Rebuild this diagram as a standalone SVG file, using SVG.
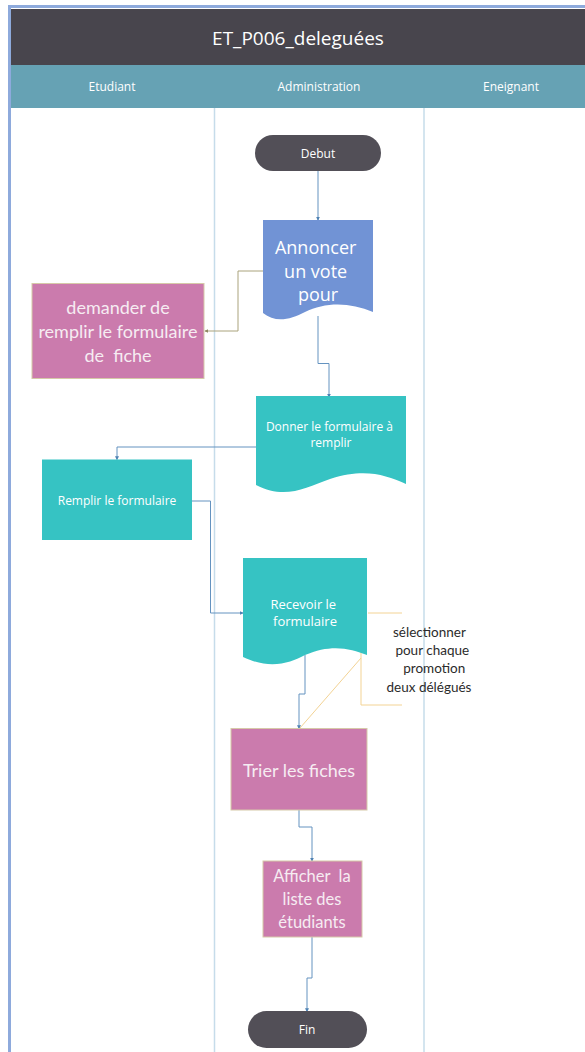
<svg xmlns="http://www.w3.org/2000/svg" width="585" height="1052" viewBox="0 0 585 1052">
  <style>
    .seg { font-family: "Open Sans", "Liberation Sans", sans-serif; fill: #ffffff; text-anchor: middle; }
    .cal { font-family: Lato, "Noto Sans", sans-serif; fill: #f6ecf2; text-anchor: middle; white-space: pre; }
    .note { font-family: Lato, "Noto Sans", sans-serif; fill: #2b2b2b; text-anchor: middle; font-size: 13.5px; }
    .lane { stroke: #c6dcea; stroke-width: 1.5; }
    .flow { fill: none; stroke: #6493c0; stroke-width: 1; }
    .link { fill: none; stroke: #aaa37d; stroke-width: 1; }
    .ann { fill: none; stroke: #f3d394; stroke-width: 1; }
    .pill { fill: #524f57; }
    .teal { fill: #36c3c3; }
    .pink { fill: #cb7bad; stroke: #d6c9a8; stroke-width: 1; }
  </style>
  <defs>
    <marker id="arr" viewBox="0 0 6 6" refX="5" refY="3" markerWidth="4" markerHeight="4" orient="auto">
      <path d="M0,0 L6,3 L0,6 Z" fill="#4f82b3"/>
    </marker>
    <marker id="arrOl" viewBox="0 0 6 6" refX="5" refY="3" markerWidth="4" markerHeight="4" orient="auto">
      <path d="M0,0 L6,3 L0,6 Z" fill="#8f8a62"/>
    </marker>
  </defs>

  <!-- pool frame and headers -->
  <g id="pool">
    <rect x="0" y="0" width="585" height="1052" fill="#ffffff"/>
    <rect x="8" y="5" width="577" height="3" fill="#8eaadc"/>
    <rect x="8" y="5" width="3" height="1047" fill="#8eaadc"/>
    <rect x="11" y="9" width="574" height="56" fill="#48454d"/>
    <text x="298" y="45" class="seg" font-size="19" fill="#ececec">ET_P006_deleguées</text>
    <rect x="11" y="65" width="574" height="43" fill="#66a2b4"/>
    <text x="112" y="91" class="seg" font-size="12" fill="#eef4f6">Etudiant</text>
    <text x="319" y="91" class="seg" font-size="12" fill="#eef4f6">Administration</text>
    <text x="511" y="91" class="seg" font-size="12" fill="#eef4f6">Eneignant</text>
    <line x1="214.5" y1="108" x2="214.5" y2="1052" class="lane"/>
    <line x1="424" y1="108" x2="424" y2="1052" class="lane"/>
  </g>

  <!-- connectors -->
  <g id="connectors">
    <path d="M318,171 V220" class="flow" marker-end="url(#arr)"/>
    <path d="M318,316 V363.5 H329 V397" class="flow" marker-end="url(#arr)"/>
    <path d="M263,271 H238 V331 H205" class="link" marker-end="url(#arrOl)"/>
    <path d="M256,447 H117 V459.5" class="flow" marker-end="url(#arr)"/>
    <path d="M192,501 H210.5 V613 H243" class="flow" marker-end="url(#arr)"/>
    <path d="M305,655 V694 H299 V728.5" class="flow" marker-end="url(#arr)"/>
    <path d="M299,810 V827 H312 V861" class="flow" marker-end="url(#arr)"/>
    <path d="M312,937 V978 H307 V1011.5" class="flow" marker-end="url(#arr)"/>
    <!-- annotation bracket -->
    <path d="M368,613 H402" class="ann"/>
    <path d="M402,705 H361 V652" class="ann"/>
    <path d="M361,658 L300,728" class="ann" stroke="#f6e0b6"/>
  </g>

  <g id="debut">
    <rect x="255" y="135" width="126" height="36" rx="18" class="pill"/>
    <text x="318" y="158" class="seg" font-size="12" fill="#eeeeee">Debut</text>
  </g>

  <g id="annoncer">
    <path d="M263,220 H373 V312 C350,302 325,302 305,312 C290,320 275,323 263,313 Z" fill="#7193d5"/>
    <text class="seg" font-size="18">
      <tspan x="318" y="254">Annoncer</tspan>
      <tspan x="318" y="278">un vote</tspan>
      <tspan x="318" y="301">pour</tspan>
    </text>
  </g>

  <g id="demander">
    <rect x="32" y="283.5" width="172" height="95" class="pink"/>
    <text class="cal" font-size="18"><tspan x="118" y="314">demander de</tspan><tspan x="118" y="338">remplir le formulaire</tspan><tspan x="118" y="362">de  fiche</tspan></text>
  </g>

  <g id="donner">
    <path d="M256,396 H406 V484 C385,475 365,468 330,479 C305,488 285,500 256,485 Z" class="teal"/>
    <text class="seg" font-size="12">
      <tspan x="331" y="431">Donner le formulaire à</tspan>
      <tspan x="331" y="447">remplir</tspan>
    </text>
  </g>

  <g id="remplir">
    <rect x="42" y="459.5" width="150" height="80.5" class="teal"/>
    <text x="117" y="505" class="seg" font-size="12">Remplir le formulaire</text>
  </g>

  <g id="recevoir">
    <path d="M243,558 H367 V655 C350,648 330,644 305,655 C290,663 270,670 243,657 Z" class="teal"/>
    <text class="seg" font-size="13">
      <tspan x="305" y="609">Recevoir le</tspan>
      <tspan x="305" y="626">formulaire</tspan>
    </text>
  </g>

  <g id="note">
    <text class="note">
      <tspan x="431" y="637">sélectionner</tspan>
      <tspan x="434" y="655">pour chaque</tspan>
      <tspan x="436" y="673">promotion</tspan>
      <tspan x="429" y="692">deux délégués</tspan>
    </text>
  </g>

  <g id="trier">
    <rect x="231" y="728.5" width="136" height="81.5" class="pink"/>
    <text x="299" y="777" class="cal" font-size="18">Trier les fiches</text>
  </g>

  <g id="afficher">
    <rect x="263" y="861" width="99" height="76" class="pink"/>
    <text class="cal" font-size="16.5"><tspan x="312" y="882">Afficher  la</tspan><tspan x="312" y="905">liste des</tspan><tspan x="312" y="928">étudiants</tspan></text>
  </g>

  <g id="fin">
    <rect x="248" y="1011" width="119" height="37" rx="18.5" class="pill"/>
    <text x="307" y="1034" class="seg" font-size="12" fill="#eeeeee">Fin</text>
  </g>
</svg>
